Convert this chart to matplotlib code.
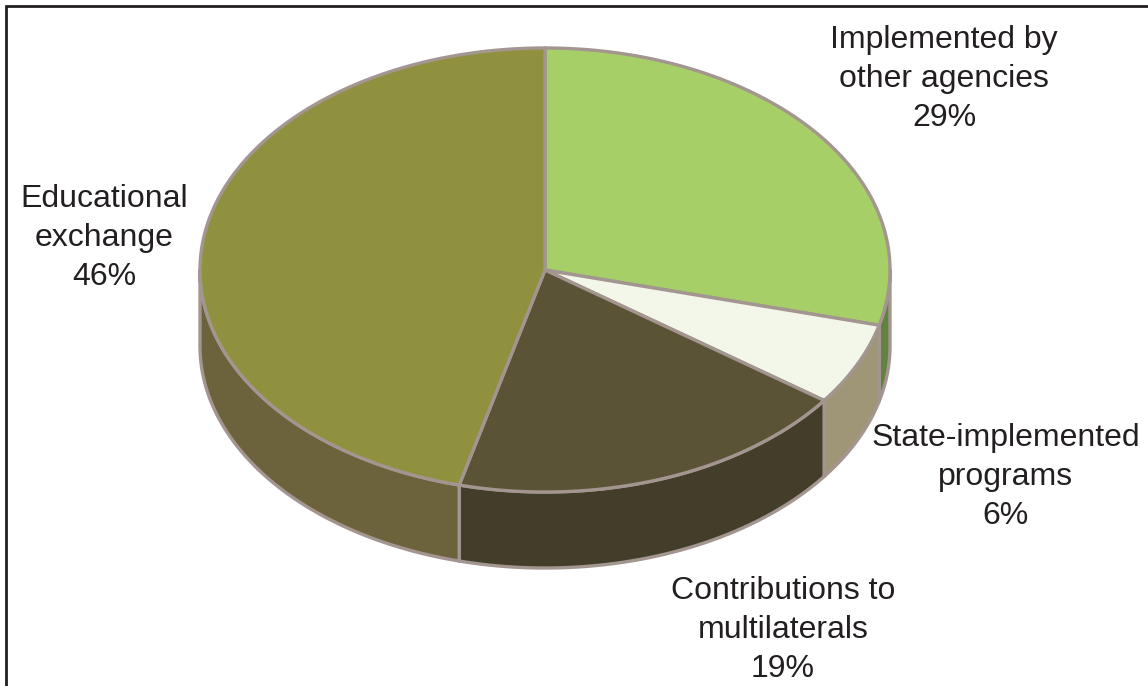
import numpy as np
import matplotlib
matplotlib.use('Agg')
from matplotlib import pyplot as plt
from matplotlib.patches import Polygon

# Chart data
categories = ['Implemented by\nother agencies', 'State-implemented\nprograms',
              'Contributions to\nmultilaterals', 'Educational\nexchange']
shares = [29, 6, 19, 46]
top_colors = ['#a6cf67', '#f3f7ea', '#5a5335', '#8f913e']
side_colors = ['#62823f', '#9f9678', '#423e2a', '#6c623c']

# Pie geometry, in image pixels
cx, cy = 545, 270
rx, ry = 345, 222
depth = 76
edge = '#a3958f'
edge_w = 2.4

label_pos = [(944, 79), (1006, 477), (783, 630), (104, 238)]


def rim(a0, a1, n=200):
    # points of the top ellipse, angle measured clockwise from 12 o'clock
    t = np.radians(np.linspace(a0, a1, n))
    return np.column_stack((cx + rx*np.sin(t), cy - ry*np.cos(t)))


fig = plt.figure(figsize=(11.48, 6.86), dpi=100)
ax = fig.add_axes([0, 0, 1, 1])
ax.set_xlim(0, 1148)
ax.set_ylim(686, 0)
ax.axis('off')

bounds = np.concatenate(([0], np.cumsum(shares))) * 3.6

# Side walls first: only the front half (90..270 degrees) can be seen
for i in range(len(shares)):
    a0 = max(bounds[i], 90)
    a1 = min(bounds[i+1], 270)
    if a1 <= a0:
        continue
    front = rim(a0, a1)
    wall = np.vstack((front, front[::-1] + [0, depth]))
    ax.add_patch(Polygon(wall, closed=True, fc=side_colors[i], ec=edge,
                         lw=edge_w, joinstyle='round', zorder=1))

# Top slices
for i in range(len(shares)):
    slice_pts = np.vstack(([[cx, cy]], rim(bounds[i], bounds[i+1])))
    ax.add_patch(Polygon(slice_pts, closed=True, fc=top_colors[i], ec=edge,
                         lw=edge_w, joinstyle='round', zorder=2))

# Labels
for name, share, pos in zip(categories, shares, label_pos):
    ax.text(pos[0], pos[1], '{}\n{}%'.format(name, share), ha='center', va='center',
            fontsize=23, family='Liberation Sans', color='#231f20', linespacing=1.39,
            zorder=3)

# Frame: top and left only
ax.plot([6, 6, 1148], [686, 5.5, 5.5], color='#231f20', lw=2, solid_joinstyle='miter',
        zorder=4)

fig.savefig('out.png', dpi=100)
